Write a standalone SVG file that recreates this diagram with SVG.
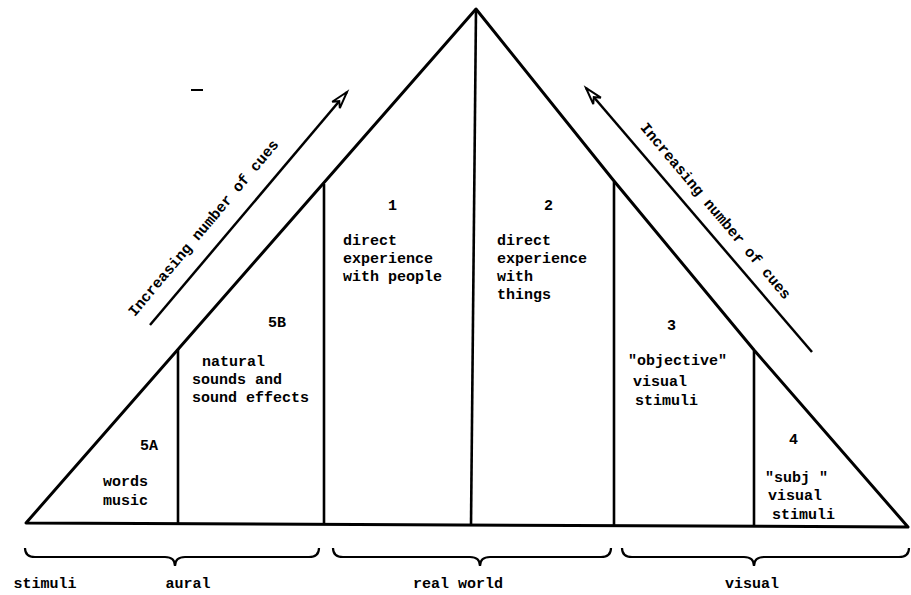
<svg xmlns="http://www.w3.org/2000/svg" width="911" height="595" viewBox="0 0 911 595">
<style>
.t{font-family:"Liberation Mono","DejaVu Sans Mono",monospace;font-size:15px;font-weight:bold;fill:#000}
.m{text-anchor:middle}
.ln{stroke:#000;stroke-width:3;fill:none;stroke-linejoin:round}
.vl{stroke:#000;stroke-width:2.6;fill:none}
.br{stroke:#000;stroke-width:2.2;fill:none}
.ar{stroke:#000;stroke-width:2.5;fill:none}
</style>
<defs>
<marker id="ah" viewBox="-20 -8 24 16" refX="0" refY="0" markerWidth="24" markerHeight="16" markerUnits="userSpaceOnUse" orient="auto">
<path d="M0,0 L-17,-5 L-12,0 L-17,5 Z" fill="#fff" stroke="#000" stroke-width="2"/>
</marker>
</defs>
<rect width="911" height="595" fill="#fff"/>
<g id="triangle">
<path class="ln" d="M26,523 L476,9 L614,181 L754,350 L908,527 Z"/>
<line class="vl" x1="178" y1="349" x2="178" y2="524"/>
<line class="vl" x1="324" y1="184" x2="324" y2="525"/>
<line class="vl" x1="476" y1="9" x2="471" y2="526"/>
<line class="vl" x1="614" y1="182" x2="614" y2="526"/>
<line class="vl" x1="754" y1="351" x2="754" y2="527"/>
<line x1="191" y1="90" x2="203" y2="90" stroke="#000" stroke-width="2"/>
</g>
<g id="region-5A">
<text class="t" x="140" y="450">5A</text>
<text class="t" x="103" y="486">words</text>
<text class="t" x="103" y="505">music</text>
</g>
<g id="region-5B">
<text class="t" x="268" y="327">5B</text>
<text class="t" x="202" y="366">natural</text>
<text class="t" x="192" y="384">sounds and</text>
<text class="t" x="192" y="402">sound effects</text>
</g>
<g id="region-1">
<text class="t" x="388" y="210">1</text>
<text class="t" x="343" y="245">direct</text>
<text class="t" x="343" y="263">experience</text>
<text class="t" x="343" y="281">with people</text>
</g>
<g id="region-2">
<text class="t" x="544" y="210">2</text>
<text class="t" x="497" y="245">direct</text>
<text class="t" x="497" y="263">experience</text>
<text class="t" x="497" y="281">with</text>
<text class="t" x="497" y="299">things</text>
</g>
<g id="region-3">
<text class="t" x="667" y="330">3</text>
<text class="t" x="628" y="365">"objective"</text>
<text class="t" x="633" y="386">visual</text>
<text class="t" x="635" y="405">stimuli</text>
</g>
<g id="region-4">
<text class="t" x="789" y="444">4</text>
<text class="t" x="765" y="482">"subj "</text>
<text class="t" x="768" y="500">visual</text>
<text class="t" x="772" y="519">stimuli</text>
</g>
<g id="connectors">
<line class="ar" x1="150" y1="325" x2="347" y2="92" marker-end="url(#ah)"/>
<line class="ar" x1="812" y1="352" x2="586" y2="88" marker-end="url(#ah)"/>
</g>
<g id="cue-labels">
<text class="t m" transform="translate(207,231) rotate(-50)">Increasing number of cues</text>
<text class="t m" transform="translate(712,214) rotate(50)">Increasing number of cues</text>
</g>
<g id="braces">
<path class="br" d="M25,548 Q25,557 35,557 L165,557 Q175,557 175,566 Q175,557 185,557 L309,557 Q319,557 319,548"/>
<path class="br" d="M333,548 Q333,557 343,557 L470,557 Q480,557 480,566 Q480,557 490,557 L601,557 Q611,557 611,548"/>
<path class="br" d="M622,548 Q622,557 632,557 L744,557 Q754,557 754,566 Q754,557 764,557 L899,557 Q909,557 909,548"/>
<text class="t m" x="45" y="588">stimuli</text>
<text class="t m" x="188" y="588">aural</text>
<text class="t m" x="458" y="588">real world</text>
<text class="t m" x="752" y="588">visual</text>
</g>
</svg>
